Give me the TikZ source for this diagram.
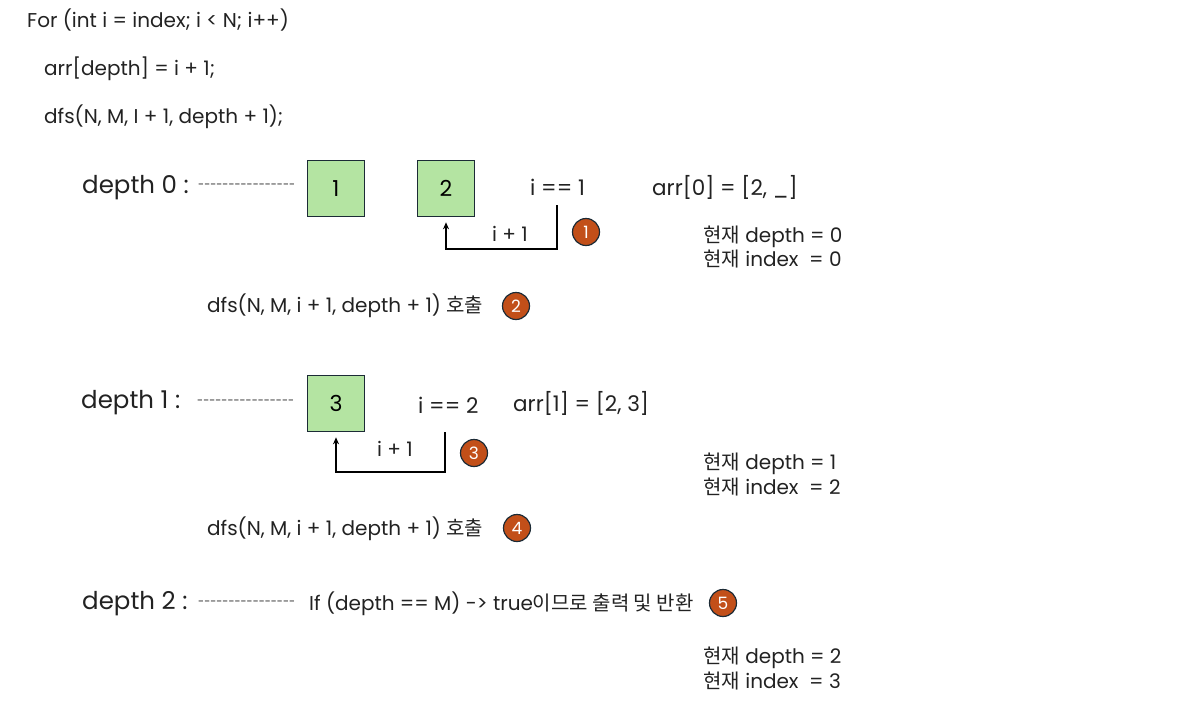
\documentclass[tikz,border=0pt]{standalone}
\usepackage{fontspec}
\setmainfont{Poppins}
\newfontfamily\kr{Noto Sans CJK KR}
\usetikzlibrary{arrows.meta}
\definecolor{boxfill}{HTML}{B4E4A2}
\definecolor{boxline}{HTML}{1C2B36}
\definecolor{badge}{HTML}{C24F19}
\definecolor{ink}{HTML}{222222}
\newcommand\hy{\kern0pt-\kern0pt}
\newcommand\hyrow{\hy\hy\hy\hy\hy\hy\hy\hy\hy\hy\hy\hy\hy\hy\hy\hy}
\tikzset{
  code/.style={anchor=west,inner sep=0pt,text=ink,font=\fontsize{20}{24}\selectfont},
  lvl/.style={anchor=west,inner sep=0pt,text=ink,font=\fontsize{24.5}{28}\selectfont},
  dashes/.style={anchor=west,inner sep=0pt,text=ink,font=\fontsize{11}{14}\selectfont},
  mid/.style={anchor=west,inner sep=0pt,text=ink,font=\fontsize{21.5}{25}\selectfont},
  info/.style={anchor=west,inner sep=0pt,text=ink,font=\fontsize{20}{22}\selectfont},
  lbl/.style={inner sep=0pt,text=ink,font=\fontsize{20}{23}\selectfont},
  numbox/.style={draw=boxline,fill=boxfill,line width=1.6pt,minimum width=57pt,minimum height=56pt,inner sep=0pt,font=\fontsize{22}{26}\selectfont},
  badgec/.style={circle,draw=boxline,fill=badge,line width=1.2pt,minimum size=27pt,inner sep=0pt,text=white,font=\fontsize{17}{20}\selectfont},
  conn/.style={draw=black,line width=1.4pt,-{Stealth[length=7pt,width=6pt]},shorten >=5pt},
}
\begin{document}
\begin{tikzpicture}[x=1pt,y=-1pt]
\useasboundingbox (0,0) rectangle (1192,724);
% code
\node[code] (c1) at (27,20) {For (int i = index; i < N; i++)};
\node[code] (c2) at (44,69) {arr[depth] = i + 1;};
\node[code] (c3) at (44,117) {dfs(N, M, I + 1, depth + 1);};
% depth 0
\node[lvl] (d0) at (82,188) {depth 0 :};
\node[dashes] (h0) at (198,186) {\hyrow};
\node[numbox] (b1) at (336,188.5) {1};
\node[numbox] (b2) at (446,188.5) {2};
\node[mid] (e1) at (530,187) {i == 1};
\node[mid] (a0) at (652,187) {arr[0] = [2, \_]};
\coordinate (s1) at (557,205);
\draw[conn] (s1) -- (557,249) -| (b2.south);
\node[lbl] (p1) at (510,234) {i + 1};
\node[badgec] (n1) at (586,232) {1};
\node[info] (i0a) at (703,237) {{\kr 현재} depth = 0};
\node[info] (i0b) at (703,259) {{\kr 현재} index\ \ = 0};
\node[info] (f1) at (207,306) {dfs(N, M, i + 1, depth + 1) {\kr 호출}};
\node[badgec] (n2) at (516,306) {2};
% depth 1
\node[lvl] (d1) at (81,403) {depth 1 :};
\node[dashes] (h1) at (197,402) {\hyrow};
\node[numbox] (b3) at (336,403.5) {3};
\node[mid] (e2) at (418,405) {i == 2};
\node[mid] (a1) at (513,403) {arr[1] = [2, 3]};
\coordinate (s2) at (445,432);
\draw[conn] (s2) -- (445,472) -| (b3.south);
\node[lbl] (p2) at (395,449) {i + 1};
\node[badgec] (n3) at (474,453) {3};
\node[info] (i1a) at (703,464) {{\kr 현재} depth = 1};
\node[info] (i1b) at (703,487) {{\kr 현재} index\ \ = 2};
\node[info] (f2) at (207,529) {dfs(N, M, i + 1, depth + 1) {\kr 호출}};
\node[badgec] (n4) at (517,528) {4};
% depth 2
\node[lvl] (d2) at (82,604) {depth 2 :};
\node[dashes] (h2) at (198,603) {\hyrow};
\node[info] (r2) at (309,604) {If (depth == M) -> true{\kr 이므로 출력 및 반환}};
\node[badgec] (n5) at (723,603) {5};
\node[info] (i2a) at (703,658) {{\kr 현재} depth = 2};
\node[info] (i2b) at (703,681) {{\kr 현재} index\ \ = 3};
\end{tikzpicture}
\end{document}
